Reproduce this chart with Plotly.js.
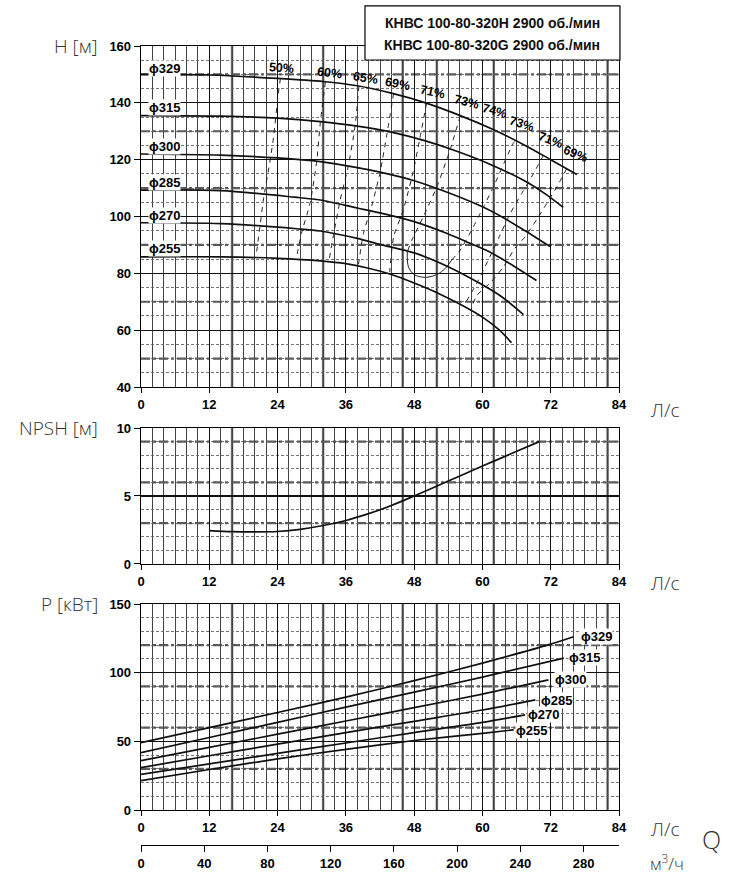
<!DOCTYPE html>
<html>
<head>
<meta charset="utf-8">
<script src="https://cdn.plot.ly/plotly-3.0.1.min.js"></script>
<style>
  html, body { margin: 0; padding: 0; background: #fff; }
  #chart { width: 734px; height: 877px; }
</style>
</head>
<body>
<div id="chart"></div>
<script>
// impeller diameters
const diameters = ["ϕ329", "ϕ315", "ϕ300", "ϕ285", "ϕ270", "ϕ255"];

// head curves, Q [л/с] -> H [м]
const head_q = [
    [0, 12, 24, 32, 38, 44, 50, 56, 62, 68, 72, 76.6],
    [0, 14, 24, 31.5, 38, 44, 50, 56, 62, 68, 71.3, 74.2],
    [0, 14, 24, 31.5, 38, 42, 48, 53.7, 60, 64, 67, 71.9],
    [0, 14, 27, 31.5, 38, 42, 48, 53.7, 57, 61.3, 65.4, 69.5],
    [0, 14, 27.4, 31.5, 38, 42, 48, 53.7, 59.6, 63.5, 67.2],
    [0, 14, 24, 31.5, 36, 40, 44, 48, 52, 56, 60, 63, 65.1]
];
const head_h = [
    [150, 149.8, 148.6, 147.5, 146, 143.4, 140, 135.6, 130.5, 124.5, 120, 114.8],
    [135.5, 135.3, 134.6, 133.4, 131.8, 129.7, 126.6, 122.6, 117.8, 111.9, 107.6, 103.2],
    [122, 121.6, 120.6, 119.3, 117.2, 115.6, 112.6, 108.6, 103.4, 99.2, 95.6, 89.4],
    [109.3, 109.1, 106.8, 105.8, 103, 101.3, 98.2, 94.1, 91.3, 87.5, 82.7, 77.5],
    [97.8, 97.5, 95.7, 94.9, 92.3, 90.2, 87.2, 82.6, 76.4, 71.6, 65.5],
    [85.8, 85.8, 85.3, 84.4, 83.4, 81.8, 79.6, 76.6, 73.2, 69.2, 64.6, 60, 55.6]
];

// efficiency iso-lines (dashed), Q and H
const eff_q = [
    [24.5, 24.1, 23.3, 22.7, 21.5, 20.9, 20.2],
    [32.4, 31.5, 30.9, 29.7, 28.2, 27.3],
    [38.3, 37.6, 36.4, 35, 34.1, 33],
    [44.4, 43.2, 42, 40.5, 39.1, 38.2],
    [50.2, 49, 47.9, 46.1, 44.4, 43.7],
    [56.1, 54.3, 52, 49.6, 47.6, 46.8],
    [54.6, 56.1, 58.1, 60.2, 62.2, 65.4, 65.9],
    [70.7, 69, 66.9, 64.9, 63.1, 61.3, 59.3, 56.8],
    [74.8, 73.1, 71.3, 69.5, 67.5, 65.7, 63.7, 61.3, 59, 58]
];
const eff_h = [
    [148.6, 142.7, 128, 119.9, 105.8, 96.4, 85.8],
    [147.4, 132.8, 119.9, 104.6, 94.1, 85.2],
    [146, 131.6, 117.5, 105.8, 96.4, 84.2],
    [143.4, 128.8, 115.4, 103.4, 94.1, 82.8],
    [140, 127.4, 116.4, 102.3, 92.9, 80.4],
    [135.4, 123.4, 110.5, 99.9, 91.7, 87.6],
    [84.7, 88.2, 95.2, 103.4, 111.6, 125.7, 126.8],
    [121.5, 115.2, 108.1, 101.1, 93.5, 85.8, 77.6, 68.8],
    [116.8, 110.5, 104.6, 98.8, 92.9, 88.8, 82.3, 76.5, 72.2, 67.2]
];
// solid loop at the bottom of the 73% line
const loop_q = [46.8, 47, 48, 49.9, 52, 53.5, 54.6];
const loop_h = [87.6, 82.3, 79.6, 78.6, 79.6, 81.8, 84.7];

// efficiency labels
const eff_labels = ["50%", "60%", "65%", "69%", "71%", "73%", "74%", "73%", "71%", "69%"];
const eff_label_q = [24.7, 33.2, 39.4, 45.1, 51.2, 57.2, 62.1, 66.9, 71.9, 76.4];
const eff_label_h = [152.3, 150.4, 148.8, 146.6, 143.8, 140.2, 137, 132.4, 126.8, 122];

// NPSH curve
const npsh_q = [12, 16, 20, 24, 28, 32, 36, 40, 44, 48, 54, 60, 65, 70];
const npsh_h = [2.46, 2.38, 2.36, 2.39, 2.55, 2.83, 3.2, 3.7, 4.3, 5.0, 6.1, 7.2, 8.1, 9.0];

// power curves, Q [л/с] -> P [кВт]
const power_q = [
    [0, 12, 24, 36, 48, 60, 72, 76],
    [0, 12, 24, 36, 48, 60, 74.3],
    [0, 12, 24, 36, 48, 60, 71.6],
    [0, 12, 24, 36, 48, 60, 69.3],
    [0, 12, 24, 36, 48, 60, 67.5],
    [0, 12, 24, 36, 48, 60, 65.5]
];
const power_p = [
    [49.1, 60, 71, 82.2, 94.2, 107, 120.8, 126.2],
    [41.8, 52.8, 63.8, 74.9, 85.8, 96.8, 110.6],
    [36, 45.6, 55.2, 64.8, 74.5, 84.4, 94.8],
    [30.9, 39.5, 48, 56.4, 64.6, 72.8, 80.2],
    [26, 33.6, 41.2, 48.8, 56.4, 63.8, 69.3],
    [21.4, 29.5, 37.2, 44.2, 50.6, 55.8, 58.4]
];

// label anchors
const head_label_h = [152.2, 138.2, 124.8, 111.8, 100.5, 88.9];
const power_label_q = [77.2, 75.1, 72.5, 70.1, 67.8, 65.7];
const power_label_p = [126.2, 110.9, 95.2, 80.1, 69.2, 57.8];

// tick labels
const flow_ticks = [0, 12, 24, 36, 48, 60, 72, 84];
const m3h_ticks = [0, 40, 80, 120, 160, 200, 240, 280];
const title_lines = ["КНВС 100-80-320H 2900 об./мин", "КНВС 100-80-320G 2900 об./мин"];

// styling constants (not data)
const FONT = "Liberation Sans, Arial, sans-serif";
const LIGHT = "Open Sans, Liberation Sans, sans-serif";
const heavy_x = [16, 32, 46, 52, 62, 82];
const heavy_y = { y: [50, 70, 90, 110, 130, 150], y2: [3, 6, 9], y3: [30, 60, 90, 120] };
const LS_TO_M3H = 3.6;

function flow_axis(anchor) {
    return {
        range: [0, 84], anchor: anchor, domain: [0, 1],
        tickvals: flow_ticks, ticks: "outside", ticklen: 5, tickcolor: "#000",
        showline: true, mirror: true, linecolor: "#000", linewidth: 1.3,
        showgrid: true, gridcolor: "#111", gridwidth: 1.1,
        minor: { dtick: 2, showgrid: true, gridcolor: "#444", gridwidth: 1 },
        tickfont: { family: FONT, size: 13, color: "#000", weight: "bold" },
        zeroline: false, fixedrange: true
    };
}

function value_axis(domain, range, dtick, minor_dtick, anchor) {
    return {
        domain: domain, range: range, dtick: dtick, anchor: anchor,
        ticks: "outside", ticklen: 6, tickcolor: "#000",
        showline: true, mirror: true, linecolor: "#000", linewidth: 1.3,
        showgrid: true, gridcolor: "#111", gridwidth: 1.1,
        minor: { dtick: minor_dtick, showgrid: true, gridcolor: "#666", gridwidth: 0.9, griddash: "3px,2px" },
        tickfont: { family: FONT, size: 13, color: "#000", weight: "bold" },
        zeroline: false, fixedrange: true
    };
}

function line_trace(x, y, xa, ya, line) {
    return {
        x: x, y: y, xaxis: xa, yaxis: ya,
        type: "scatter", mode: "lines", line: line,
        hoverinfo: "skip", showlegend: false
    };
}

function build_traces() {
    const traces = [];
    const solid = { color: "#111", width: 1.7, shape: "spline", smoothing: 0.8 };
    for (let i = 0; i < diameters.length; i++)
        traces.push(line_trace(head_q[i], head_h[i], "x", "y", solid));
    for (let i = 0; i < eff_q.length; i++)
        traces.push(line_trace(eff_q[i], eff_h[i], "x", "y",
            { color: "#222", width: 1, dash: "5px,5px", shape: "spline", smoothing: 0.6 }));
    traces.push(line_trace(loop_q, loop_h, "x", "y", { color: "#222", width: 1, shape: "spline" }));
    traces.push(line_trace(npsh_q, npsh_h, "x2", "y2", solid));
    for (let i = 0; i < diameters.length; i++)
        traces.push(line_trace(power_q[i], power_p[i], "x3", "y3", solid));
    // carrier for the м3/ч axis
    traces.push({
        x: m3h_ticks, y: m3h_ticks.map(() => null), xaxis: "x4", yaxis: "y3",
        type: "scatter", mode: "markers", hoverinfo: "skip", showlegend: false
    });
    return traces;
}

function build_shapes() {
    const shapes = [];
    const pairs = [["x", "y"], ["x2", "y2"], ["x3", "y3"]];
    for (const [xa, ya] of pairs) {
        for (const q of heavy_x)
            shapes.push({
                type: "line", xref: xa, yref: ya + " domain", x0: q, x1: q, y0: 0, y1: 1,
                line: { color: "#666", width: 2.4 }, layer: "below"
            });
        for (const v of heavy_y[ya])
            shapes.push({
                type: "line", xref: xa + " domain", yref: ya, x0: 0, x1: 1, y0: v, y1: v,
                line: { color: "#555", width: 2.2, dash: "9px,3px,3px,3px" }, layer: "below"
            });
    }
    // title box
    shapes.push({
        type: "rect", xref: "paper", yref: "paper",
        x0: 0.4686, x1: 1.002, y0: 0.9825, y1: 1.0501,
        fillcolor: "#fff", line: { color: "#000", width: 1.2 }, layer: "above"
    });
    return shapes;
}

function build_annotations() {
    const ann = [];
    const txt = (o) => Object.assign({ showarrow: false }, o);

    for (let i = 0; i < diameters.length; i++) {
        ann.push(txt({
            text: diameters[i], xref: "x", yref: "y", x: 1.2, y: head_label_h[i],
            xanchor: "left", yanchor: "middle", bgcolor: "#fff", borderpad: 0,
            font: { family: FONT, size: 13, color: "#000", weight: "bold" }
        }));
        ann.push(txt({
            text: diameters[i], xref: "x3", yref: "y3", x: power_label_q[i], y: power_label_p[i],
            xanchor: "left", yanchor: "middle", bgcolor: "#fff", borderpad: 0,
            font: { family: FONT, size: 13, color: "#000", weight: "bold" }
        }));
    }
    const angles = [5, 7, 9, 11, 12, 14, 16, 18, 20, 22];
    for (let i = 0; i < eff_labels.length; i++) {
        ann.push(txt({
            text: eff_labels[i], xref: "x", yref: "y", x: eff_label_q[i], y: eff_label_h[i],
            textangle: angles[i],
            font: { family: FONT, size: 12.5, color: "#000", weight: "bold" }
        }));
    }

    // axis titles
    const ytitle = (text, y) => txt({
        text: text, xref: "paper", yref: "paper", x: -0.086, y: y,
        xanchor: "right", yanchor: "middle",
        font: { family: LIGHT, size: 19, color: "#333", weight: 300 }
    });
    ann.push(ytitle("H [м]", 1.0));
    ann.push(ytitle("NPSH [м]", 0.5219));
    ann.push(ytitle("P [кВт]", 0.3016));

    const unit = (text, y, size) => txt({
        text: text, xref: "paper", yref: "paper", x: 1.0607, y: y,
        xanchor: "left", yanchor: "middle",
        font: { family: LIGHT, size: size, color: "#333", weight: 300 }
    });
    ann.push(unit("Л/с", 0.5444, 19));
    ann.push(unit("Л/с", 0.3279, 19));
    ann.push(unit("Л/с", 0.0200, 19));
    ann.push(unit("м<sup>3</sup>/ч", -0.0213, 17));
    ann.push(txt({
        text: "Q", xref: "paper", yref: "paper", x: 1.17, y: 0.0075,
        xanchor: "left", yanchor: "middle",
        font: { family: LIGHT, size: 25, color: "#333", weight: 300 }
    }));

    // title box text
    ann.push(txt({
        text: title_lines[0], xref: "paper", yref: "paper", x: 0.735, y: 1.0288,
        xanchor: "center", yanchor: "middle",
        font: { family: FONT, size: 14, color: "#111", weight: "bold" }
    }));
    ann.push(txt({
        text: title_lines[1], xref: "paper", yref: "paper", x: 0.735, y: 1.0013,
        xanchor: "center", yanchor: "middle",
        font: { family: FONT, size: 14, color: "#111", weight: "bold" }
    }));
    return ann;
}

function draw() {
    const layout = {
        width: 734, height: 877,
        margin: { l: 141, r: 115, t: 46, b: 32, pad: 0 },
        paper_bgcolor: "#fff", plot_bgcolor: "#fff",
        showlegend: false,
        xaxis: flow_axis("y"),
        xaxis2: flow_axis("y2"),
        xaxis3: flow_axis("y3"),
        xaxis4: {
            range: [0, 84 * LS_TO_M3H], overlaying: "x3", anchor: "free", position: 0, side: "bottom",
            tickvals: m3h_ticks, ticks: "outside", ticklen: 6, tickcolor: "#000",
            showline: true, linecolor: "#000", linewidth: 1.3, showgrid: false, zeroline: false,
            tickfont: { family: FONT, size: 13, color: "#000", weight: "bold" }, fixedrange: true
        },
        yaxis: value_axis([0.5732, 1], [40, 160], 20, 5, "x"),
        yaxis2: value_axis([0.3517, 0.5219], [0, 10], 5, 1, "x2"),
        yaxis3: value_axis([0.0438, 0.3016], [0, 150], 50, 10, "x3"),
        shapes: build_shapes(),
        annotations: build_annotations()
    };
    const configuration = { displayModeBar: false, staticPlot: true };
    Plotly.newPlot("chart", build_traces(), layout, configuration);
}

draw();
</script>
</body>
</html>
